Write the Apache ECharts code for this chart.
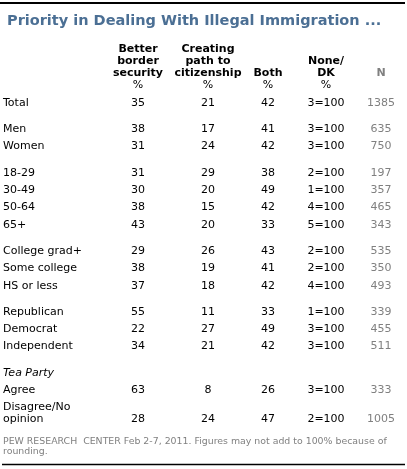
<!DOCTYPE html>
<html lang="en">
<head>
<meta charset="UTF-8">
<title>Priority in Dealing With Illegal Immigration</title>
<script src="https://cdn.jsdelivr.net/npm/echarts@6/dist/echarts.min.js"></script>
<style>html,body{margin:0;padding:0;background:#fff;}</style>
</head>
<body>
<div id="main" style="width:407px;height:469px"></div>
<script>
// table data
var rowLabels = ['Total', 'Men', 'Women', '18-29', '30-49', '50-64', '65+',
    'College grad+', 'Some college', 'HS or less', 'Republican', 'Democrat',
    'Independent', 'Agree', 'Disagree/No\nopinion'];
var rowGroup = [0, 1, 1, 2, 2, 2, 2, 3, 3, 3, 4, 4, 4, 5, 5];
var groupTitles = ['', '', '', '', '', 'Tea Party'];
var border = [35, 38, 31, 31, 30, 38, 43, 29, 38, 37, 55, 22, 34, 63, 28];
var citizenship = [21, 17, 24, 29, 20, 15, 20, 26, 19, 18, 11, 27, 21, 8, 24];
var both = [42, 41, 42, 38, 49, 42, 33, 43, 41, 42, 33, 49, 42, 26, 47];
var noneDK = [3, 3, 3, 2, 1, 4, 5, 2, 2, 4, 1, 3, 3, 3, 2];
var sampleN = [1385, 635, 750, 197, 357, 465, 343, 535, 350, 493, 339, 455, 511, 333, 1005];
var columns = ['Better\nborder\nsecurity', 'Creating\npath to\ncitizenship', 'Both', 'None/\nDK', 'N'];

var font = '"DejaVu Sans", Verdana, sans-serif';

// column centres and row spacing
var labelX = 3;
var colX = [138, 208, 268, 326, 381];
var headY = 73, pctY = 85, firstRowY = 103;
var rowStep = 17.3, groupGap = 26.3, lineH = 12;

var cells = [];
columns.forEach(function (c, i) {
    cells.push({x: colX[i], y: headY, text: c, kind: i == 4 ? 'headN' : 'head'});
    if (i < 4) cells.push({x: colX[i], y: pctY, text: '%', kind: 'value'});
});

var y = firstRowY;
for (var r = 0; r < rowLabels.length; r++) {
    if (r > 0) {
        y += rowGroup[r] != rowGroup[r - 1] ? groupGap : rowStep;
        if (rowGroup[r] != rowGroup[r - 1] && groupTitles[rowGroup[r]]) {
            cells.push({x: labelX, y: y, text: groupTitles[rowGroup[r]], kind: 'group'});
            y += rowStep;
        }
    }
    var lines = rowLabels[r].split('\n').length;
    if (lines > 1) y += (lines - 1) * lineH;
    cells.push({x: labelX, y: y, text: rowLabels[r], kind: 'label'});
    cells.push({x: colX[0], y: y, text: String(border[r]), kind: 'value'});
    cells.push({x: colX[1], y: y, text: String(citizenship[r]), kind: 'value'});
    cells.push({x: colX[2], y: y, text: String(both[r]), kind: 'value'});
    cells.push({x: colX[3], y: y, text: noneDK[r] + '=100', kind: 'value'});
    cells.push({x: colX[4], y: y, text: String(sampleN[r]), kind: 'n'});
}

var myChart = echarts.init(document.getElementById('main'), null, {renderer: 'canvas'});

function renderCell(params, api) {
    var cell = cells[params.dataIndex];
    var p = api.coord([api.value(0), api.value(1)]);
    var left = cell.kind == 'label' || cell.kind == 'group';
    var multi = cell.text.indexOf('\n') >= 0;
    var vAlign = multi || cell.kind == 'head' || cell.kind == 'headN' ? 'bottom' : 'middle';
    var py = vAlign == 'bottom' ? p[1] + lineH / 2 : p[1];
    var weight = (cell.kind == 'head' || cell.kind == 'headN') ? 'bold ' : '';
    var style = cell.kind == 'group' ? 'italic ' : '';
    var color = (cell.kind == 'n' || cell.kind == 'headN') ? '#808080' : '#000';
    return {
        type: 'text',
        x: p[0],
        y: py,
        style: {
            text: cell.text,
            font: style + weight + '11px ' + font,
            fill: color,
            lineHeight: lineH,
            align: left ? 'left' : 'center',
            verticalAlign: vAlign,
            textAlign: left ? 'left' : 'center',
            textVerticalAlign: vAlign
        }
    };
}

var option = {
    animation: false,
    title: {
        text: 'Priority in Dealing With Illegal Immigration ...',
        left: 2,
        top: 9,
        textStyle: {fontFamily: font, fontSize: 14.5, fontWeight: 'bold', color: '#4b6f94'}
    },
    grid: {left: 0, right: 0, top: 0, bottom: 0},
    xAxis: {type: 'value', min: 0, max: 407, show: false},
    yAxis: {type: 'value', min: 0, max: 469, inverse: true, show: false},
    graphic: [
        {type: 'line', shape: {x1: 0, y1: 3, x2: 405, y2: 3}, style: {stroke: '#000', lineWidth: 2}},
        {type: 'line', shape: {x1: 2, y1: 464.5, x2: 405, y2: 464.5}, style: {stroke: '#000', lineWidth: 1.5}},
        {
            type: 'text', left: 3, top: 437,
            style: {
                text: 'PEW RESEARCH  CENTER Feb 2-7, 2011. Figures may not add to 100% because of\nrounding.',
                font: '9.4px ' + font, fill: '#808080', lineHeight: 10
            }
        }
    ],
    series: [{
        type: 'custom',
        renderItem: renderCell,
        data: cells.map(function (c) { return [c.x, c.y]; }),
        silent: true
    }]
};
myChart.setOption(option);
</script>
</body>
</html>
